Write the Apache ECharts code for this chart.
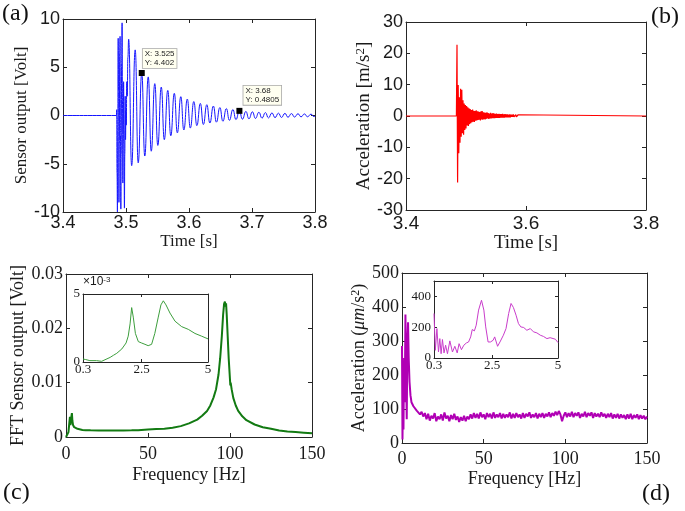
<!DOCTYPE html>
<html><head><meta charset="utf-8">
<script src="https://cdn.jsdelivr.net/npm/echarts@6/dist/echarts.min.js"></script>
<style>html,body{margin:0;padding:0;background:#fff}#c{width:685px;height:511px}</style>
</head><body><div id="c"></div>
<script>
// ---------- (a) sensor output: extrema ----------
const aTime = [3.4000,3.4848,3.4852,3.4858,3.4864,3.4870,3.4876,3.4882,3.4888,3.4894,3.4900,3.4906,3.4912,3.4918,3.4924,3.4931,3.4938,3.4944,3.4950,3.4956,3.4962,3.4968,3.4975,3.4981,3.4987,3.4993,3.4999,3.5005,3.5012,3.5020,3.5030,
3.5042,3.5090,3.5146,3.5194,3.5250,3.5298,3.5353,3.5401,3.5457,3.5505,3.5560,3.5608,3.5663,3.5711,3.5767,3.5815,3.5870,3.5918,3.5973,3.6021,3.6077,3.6125,3.6180,3.6228,3.6283,3.6331,3.6387,3.6435,3.6490,3.6538,3.6593,3.6641,3.6697,3.6745,3.6800,3.6848,3.6903,3.6951,3.7007,3.7055,3.7110,3.7158,3.7213,3.7261,3.7317,3.7365,3.7420,3.7468,3.7523,3.7571,3.7627,3.7675,3.7730,3.7778,3.7833,3.7881,3.7937,3.7985,3.8000];
const aVolt = [0,0,0.6,-6.0,-10.0,0.0,8.0,2.5,-9.0,-3.0,6.5,8.2,-2.0,-9.7,-4.0,5.5,9.6,1.5,-7.0,-3.0,3.5,-1.5,-9.6,-4.0,2.0,-2.5,0.5,-1.0,3.5,2.0,6.0,
7.9,-5.2,6.8,-4.9,4.402,-4.2,4.0,-3.7,3.3,-3.1,2.95,-2.5,2.6,-2.1,2.3,-1.8,1.95,-1.5,1.7,-1.3,1.45,-1.05,1.25,-0.93,1.12,-0.78,0.98,-0.69,0.82,-0.6,0.72,-0.5,0.62,-0.42,0.4805,-0.38,0.42,-0.34,0.38,-0.3,0.34,-0.28,0.3,-0.25,0.27,-0.22,0.24,-0.2,0.22,-0.18,0.2,-0.16,0.18,-0.14,0.16,-0.13,0.14,-0.12,-0.05];
const tipX = [3.525, 3.68];
const tipY = [4.402, 0.4805];

// ---------- (b) acceleration: samples every 1 ms from 3.484 s ----------
const bStart = 3.484, bStep = 0.001;
const bEdge = [3.4, 3.8];
const bAcc = [0,22.7,-21.2,9.9,-11.9,6.0,-8.5,8.7,-6.6,8.4,-5.5,5.0,-6.0,4.0,-4.5,3.5,-4.0,3.2,-3.0,2.8,-3.2,2.5,-2.6,2.2,-2.3,1.9,-2.0,2.1,-1.8,1.7,-1.9,1.6,-1.5,1.8,-1.4,1.5,-1.3,1.4,-1.2,1.3,-1.4,1.5,-1.1,1.6,-1.2,1.2,-1.0,1.1,-1.1,1.0,-0.9,1.2,-0.8,0.9,-0.9,0.8,-0.8,1.0,-0.8,0.8,-0.7,0.9,-0.7,0.8,-0.7,0.7,-0.6,0.8,-0.6,0.6,-0.6,0.7,-0.6,0.6,-0.5,0.6,-0.5,0.7,-0.5,0.5,-0.5,0.6,-0.4,0.5,-0.4,0.5,-0.4,0.4,-0.4,0.5,-0.4,0.4,-0.3,0.4,-0.3,0.5,-0.3,0.3,-0.3,0.4,-0.3,0.3,-0.3,0.4,-0.2,0.3,0];

// ---------- (c) FFT of sensor output ----------
const cFreq = [0,0.5,1.0,1.5,2.0,2.4,2.7,3.0,3.3,3.6,3.9,4.3,5,6,7,8,10,12,15,20,25,30,35,40,44,45,50,55,60,65,70,75,80,83,86,88,90,91.5,93,94,95,95.8,96.4,96.9,97.3,97.6,98.0,98.6,99.2,99.8,100.2,100.4,101,102,103.5,105,107.5,110,115,120,125,130,135,140,145,150];
const cAmp = [0,0.0001,0.0003,0.0009,0.0025,0.0037,0.0022,0.0028,0.0038,0.0044,0.0030,0.0022,0.0018,0.0016,0.0015,0.0014,0.0013,0.00125,0.00122,0.0012,0.00118,0.00118,0.0012,0.00122,0.00125,0.0014,0.0014,0.00145,0.0015,0.0017,0.0020,0.0025,0.0032,0.0039,0.0048,0.0058,0.0073,0.0088,0.0115,0.0145,0.0185,0.0225,0.0245,0.0249,0.0240,0.0246,0.0225,0.0185,0.0145,0.0115,0.0095,0.0100,0.0088,0.0072,0.0058,0.0048,0.0038,0.0031,0.0023,0.0018,0.0015,0.0012,0.0010,0.0009,0.0008,0.0007];
const cInFreq = [0.3,0.4,0.56,0.81,1.0,1.06,1.32,1.45,1.57,1.76,1.92,2.0,2.07,2.13,2.19,2.27,2.38,2.5,2.63,2.75,2.88,3.0,3.13,3.23,3.32,3.42,3.57,3.76,4.01,4.26,4.51,4.76,5.0];
const cInAmp = [0.00022,0.00018,0.0001,0.0001,0.00005,0.00012,0.00034,0.0005,0.00064,0.00096,0.0014,0.0019,0.0028,0.0040,0.0033,0.0021,0.0015,0.0014,0.0013,0.0012,0.0013,0.0021,0.0033,0.0042,0.0045,0.0042,0.0036,0.0030,0.0026,0.0024,0.0021,0.0019,0.0017];

// ---------- (d) FFT of acceleration ----------
const dLowFreq = [0.0,0.3,0.6,0.9,1.3,1.7,2.1,2.5,2.9,3.3,3.7,4.1,4.6,5.2,5.8];
const dLowAcc = [285,10,150,40,250,120,378,200,70,300,355,250,180,140,120];
const dBandStart = 6, dBandStep = 1;
const dBandAcc = [125,108,112,95,98,84,92,78,88,
70,86,66,80,72,88,64,78,70,84,
66,90,72,80,64,82,70,86,68,78,
62,76,66,80,64,78,70,84,72,88,
74,86,72,90,76,84,70,88,76,86,
72,90,74,84,76,88,72,86,74,84,
76,90,72,86,74,88,76,84,72,88,
74,86,78,90,74,84,76,88,72,86,
76,88,74,86,78,90,76,88,80,92,
82,94,84,64,80,90,76,88,78,92,
76,88,80,90,74,86,78,92,76,88,
80,90,74,88,78,86,76,90,78,86,
74,86,76,88,72,84,74,86,72,84,
74,82,70,84,72,86,70,82,74,84,
70,82,72,80,70,78];
const dInFreq = [0.3,0.35,0.41,0.47,0.52,0.57,0.62,0.68,0.74,0.81,0.9,1.0,1.09,1.18,1.25,1.34,1.43,1.53,1.61,1.69,1.75,1.83,1.9,1.99,2.1,2.19,2.26,2.35,2.44,2.54,2.6,2.71,2.8,2.93,3.03,3.13,3.22,3.31,3.41,3.5,3.59,3.7,3.82,3.95,4.07,4.2,4.33,4.45,4.58,4.7,4.77,4.9,5.0];
const dInAcc = [289,50,191,39,126,28,120,33,83,28,111,39,76,33,93,54,83,98,104,137,185,176,213,311,375,311,202,104,104,115,137,76,104,148,191,289,354,328,278,224,202,198,180,191,170,163,148,140,126,132,137,122,100];

const inset0 = [0.3, 2.5, 5];

// ---------- build ----------
const SANS = 'Liberation Sans', SERIF = 'Liberation Serif';
const grids = [
  {left:63, top:19, width:252, height:193},
  {left:406, top:22, width:240, height:188},
  {left:66, top:274, width:246, height:163},
  {left:83, top:294, width:125, height:68, show:true, backgroundColor:'#fff', borderWidth:0},
  {left:402, top:273, width:245, height:170},
  {left:434, top:281, width:124, height:77, show:true, backgroundColor:'#fff', borderWidth:0}
].map(g => Object.assign({outerBoundsMode:'none', containLabel:false}, g));

const X = [], Y = [];
function mkAxis(gi, pos, o, main) {
  const ax = {
    gridIndex: gi, type: 'value', position: pos,
    min: o.min, max: o.max, interval: o.interval,
    splitLine: {show:false},
    axisLine: {show:true, onZero:false, lineStyle:{color:'#262626', width:1}},
    axisTick: {show:true, inside:true, length:o.tickLen || 4, lineStyle:{color:'#262626'}},
    axisLabel: {show:false}
  };
  if (o.custom) ax.axisTick.customValues = o.custom;
  if (main) {
    ax.axisLabel = {show:true, margin:o.margin, color:'#1a1a1a', fontSize:o.fs, fontFamily:o.ff, showMinLabel:true, showMaxLabel:o.noMax ? false : true};
    if (o.fmt) ax.axisLabel.formatter = o.fmt;
    if (o.custom) ax.axisLabel.customValues = o.custom;
    if (o.name) {
      ax.name = o.name; ax.nameLocation = o.nameLoc || 'middle'; ax.nameGap = o.nameGap;
      ax.nameTextStyle = Object.assign({color:'#1a1a1a', fontFamily:SERIF, fontSize:o.nfs}, o.nameStyle || {});
    }
  }
  return ax;
}
function addPanel(gi, xo, yo) {
  const xi = X.length, yi = Y.length;
  X.push(mkAxis(gi, 'bottom', xo, true)); X.push(mkAxis(gi, 'top', xo, false));
  Y.push(mkAxis(gi, 'left', yo, true)); Y.push(mkAxis(gi, 'right', yo, false));
  return [xi, yi];
}
const f1 = v => v.toFixed(1);
const pA = addPanel(0,
  {min:3.4, max:3.8, interval:0.1, fs:18, ff:SANS, margin:2, fmt:f1, name:'Time [s]', nameGap:19, nfs:17},
  {min:-10, max:10, interval:5, fs:18, ff:SANS, margin:3, name:'Sensor output [Volt]', nameGap:30, nfs:17});
const pB = addPanel(1,
  {min:3.4, max:3.8, interval:0.2, fs:19, ff:SANS, margin:4, fmt:f1, name:'Time [s]', nameGap:21, nfs:19},
  {min:-30, max:30, interval:10, fs:18, ff:SANS, margin:3, name:'Acceleration [m/s{sup|2}]', nameGap:32, nfs:19,
   nameStyle:{rich:{sup:{fontSize:13, fontFamily:SERIF, color:'#1a1a1a', verticalAlign:'top', lineHeight:10}}}});
const pC = addPanel(2,
  {min:0, max:150, interval:50, fs:18, ff:SERIF, margin:8, name:'Frequency [Hz]', nameGap:29, nfs:18},
  {min:0, max:0.03, interval:0.01, fs:18, ff:SERIF, margin:3, fmt:v => v === 0 ? '0' : v.toFixed(2), name:'FFT Sensor output [Volt]', nameGap:34, nfs:18});
const pCi = addPanel(3,
  {min:0.3, max:5, custom:inset0, fs:13, ff:SERIF, margin:1, tickLen:3, fmt:v => String(v)},
  {min:0, max:0.005, interval:0.005, fs:13, ff:SERIF, margin:3, tickLen:3, fmt:v => String(Math.round(v*1000)),
   name:'×10{sup|-3}', nameLoc:'end', nameGap:-1, nfs:12, nameStyle:{fontFamily:SANS, align:'left', padding:[0,0,0,0], rich:{sup:{fontSize:8, fontFamily:SANS, color:'#1a1a1a', verticalAlign:'top', lineHeight:7}}}});
const pD = addPanel(4,
  {min:0, max:150, interval:50, fs:18, ff:SERIF, margin:7, name:'Frequency [Hz]', nameGap:27, nfs:18},
  {min:0, max:500, interval:100, fs:18, ff:SERIF, margin:3, name:'Acceleration ({it|μm}/s{sup|2})', nameGap:34, nfs:18,
   nameStyle:{rich:{it:{fontStyle:'italic', fontFamily:SERIF, fontSize:18, color:'#1a1a1a'}, sup:{fontSize:12, fontFamily:SERIF, color:'#1a1a1a', verticalAlign:'top', lineHeight:9}}}});
const pDi = addPanel(5,
  {min:0.3, max:5, custom:inset0, fs:13, ff:SERIF, margin:1, tickLen:3, fmt:v => String(v)},
  {min:0, max:500, interval:200, fs:13, ff:SERIF, margin:3, tickLen:3, noMax:true});

const zip = (a, b) => a.map((v, i) => [v, b[i]]);
const bData = [[bEdge[0], 0]].concat(bAcc.map((v, i) => [bStart + i*bStep, v]), [[bEdge[1], 0]]);
const dData = zip(dLowFreq, dLowAcc).concat(dBandAcc.map((v, i) => [dBandStart + i*dBandStep, v]));

const tipLabel = (i, pos) => ({
  coord: [tipX[i], tipY[i]],
  label: {show:true, position:pos, formatter:'X: ' + tipX[i] + '\nY: ' + tipY[i],
    fontSize:8, fontFamily:SANS, color:'#222', lineHeight:8.5, align:'left', verticalAlign:'top',
    backgroundColor:'#fffff0', borderColor:'#a8a8a8', borderWidth:0.8, padding:[1,2,1,2]}
});

const line = (p, data, color, w, extra) => Object.assign({
  type:'line', xAxisIndex:p[0], yAxisIndex:p[1], data, showSymbol:false, symbol:'none',
  lineStyle:{color, width:w}, itemStyle:{color}, animation:false, sampling:null, clip:true, silent:true
}, extra || {});

const option = {
  backgroundColor:'#fff',
  animation:false,
  grid: grids, xAxis: X, yAxis: Y,
  series: [
    line(pA, zip(aTime, aVolt), '#1616ff', 1, {
      smooth:0.5, smoothMonotone:'x',
      markPoint:{symbol:'rect', symbolSize:6, itemStyle:{color:'#000'}, silent:true, animation:false,
        data:[tipLabel(0, [4, -21]), tipLabel(1, [7, -22])]}
    }),
    line(pB, bData, '#ff0000', 1.2),
    line(pC, zip(cFreq, cAmp), '#127a12', 2),
    line(pCi, zip(cInFreq, cInAmp), '#3d9e3d', 1, {z:5}),
    line(pD, dData, '#b000b4', 2),
    line(pDi, zip(dInFreq, dInAcc), '#c93ccb', 1, {z:5})
  ],
  graphic: [
    {type:'text', left:2, top:2, style:{text:'(a)', font:'24px "Liberation Serif"', fill:'#111'}},
    {type:'text', left:651, top:5, style:{text:'(b)', font:'24px "Liberation Serif"', fill:'#111'}},
    {type:'text', left:3, top:481, style:{text:'(c)', font:'24px "Liberation Serif"', fill:'#111'}},
    {type:'text', left:642, top:482, style:{text:'(d)', font:'24px "Liberation Serif"', fill:'#111'}}
  ]
};
const chart = echarts.init(document.getElementById('c'), null, {renderer:'canvas'});
chart.setOption(option);
</script></body></html>
